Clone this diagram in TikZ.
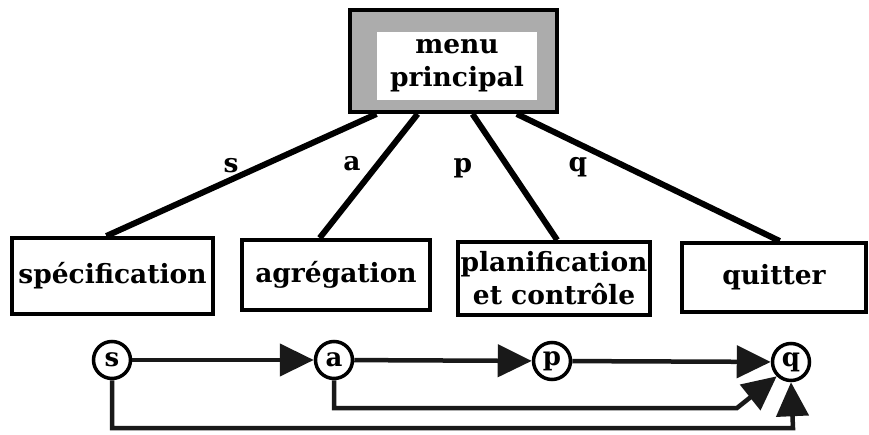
\documentclass[tikz,border=0pt]{standalone}
\usepackage{fontspec}
\setmainfont{DejaVu Serif}
\usetikzlibrary{arrows.meta,calc}
\begin{document}
\begin{tikzpicture}[x=1pt,y=-1pt,
  txt/.style={font=\fontsize{26.5}{33}\selectfont\bfseries},
  box/.style={draw, line width=4pt, txt, align=center, inner sep=0pt},
  link/.style={line width=6pt},
  lbl/.style={txt, inner sep=0pt},
  st/.style={circle, draw, line width=3.5pt, minimum size=37pt, inner sep=0pt, font=\fontsize{26}{30}\selectfont\bfseries},
  flow/.style={line width=4.5pt, draw=black!90, -{Triangle[length=34pt,width=32pt]}},
  ]
\useasboundingbox (0,0) rectangle (869,435);
% main menu
\node[draw, line width=4pt, fill=gray!65, minimum width=207pt, minimum height=102pt] (menu) at (453.5,61) {};
\node[fill=white, minimum width=160pt, minimum height=68pt, inner sep=0pt, txt, align=center] (menutxt) at (457,66) {menu\\principal};
% boxes
\node[box, minimum width=201pt, minimum height=76pt] (spec) at (112.5,276) {sp\'ecification};
\node[box, minimum width=188pt, minimum height=70pt] (agr) at (336,275) {agr\'egation};
\node[box, minimum width=192pt, minimum height=73pt] (plan) at (554,278.5) {planification\\et contr\^ole};
\node[box, minimum width=184pt, minimum height=69pt] (quit) at (774,277.5) {quitter};
% connectors
\draw[link] ($(menu.south west)!0.135!(menu.south east)$) -- ($(spec.north west)!0.47!(spec.north east)$);
\draw[link] ($(menu.south west)!0.33!(menu.south east)$) -- ($(agr.north west)!0.415!(agr.north east)$);
\draw[link] ($(menu.south west)!0.59!(menu.south east)$) -- ($(plan.north west)!0.516!(plan.north east)$);
\draw[link] ($(menu.south west)!0.80!(menu.south east)$) -- ($(quit.north west)!0.53!(quit.north east)$);
% labels
\node[lbl] (ls) at (231,166) {s};
\node[lbl] (la) at (352,164) {a};
\node[lbl] (lp) at (463,168) {p};
\node[lbl] (lq) at (578,167) {q};
% state diagram
\node[st] (s) at (112,360) {s};
\node[st] (a) at (334,360) {a};
\node[st] (p) at (552,361) {p};
\node[st] (q) at (791,362) {q};
\coordinate (ab) at (737,408);
\coordinate (sb) at (793,428);
\draw[flow] (s) -- (a);
\draw[flow] (a) -- (p);
\draw[flow] (p) -- (q);
\draw[flow] (a.south) |- (ab) -- (q.225);
\draw[flow] (s.south) |- (sb) -- (q.south);
\end{tikzpicture}
\end{document}
